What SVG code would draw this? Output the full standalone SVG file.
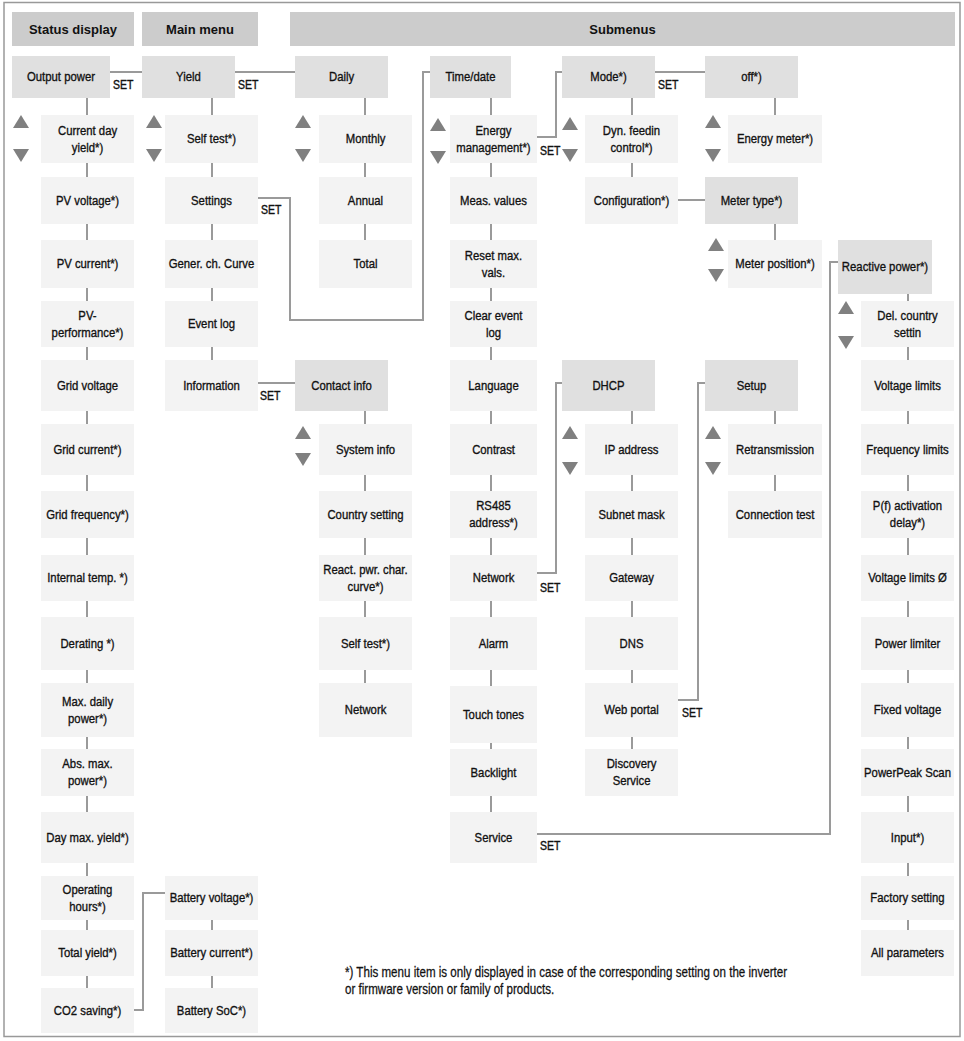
<svg xmlns="http://www.w3.org/2000/svg" xmlns:xlink="http://www.w3.org/1999/xlink" width="964" height="1041" viewBox="0 0 964 1041">
<style>
.hdr{fill:#cccccc}
.n1{fill:#e0e0e0}
.n2{fill:#f3f3f3}
.c{stroke:#9a9a9a;stroke-width:2;fill:none}
.tri{fill:#808080}
text{font-family:'Liberation Sans',Arial,sans-serif;fill:#111111}
.t{font-size:13.5px;text-anchor:middle;stroke:#111111;stroke-width:0.35;transform:scaleX(0.84);transform-box:fill-box;transform-origin:center}
.h{font-weight:bold;font-size:13px;text-anchor:middle}
.s{font-size:12.5px;stroke:#111111;stroke-width:0.4;transform:scaleX(0.84);transform-box:fill-box;transform-origin:left center}
.f{font-size:13.8px;stroke:#111111;stroke-width:0.25;transform:scaleX(0.84);transform-box:fill-box;transform-origin:left center}
</style>
<defs>
<path id="up" class="tri" d="M0,13 L8,0 L16,13 Z"/>
<path id="dn" class="tri" d="M0,0 L16,0 L8,13 Z"/>
</defs>
<rect x="4" y="2.5" width="956" height="1034" fill="#ffffff" stroke="#999999" stroke-width="1.5"/>

<g id="headers">
<rect class="hdr" x="12" y="12" width="122" height="34"/>
<text class="h" x="73" y="33.5">Status display</text>
<rect class="hdr" x="142" y="12" width="116" height="34"/>
<text class="h" x="200" y="33.5">Main menu</text>
<rect class="hdr" x="290" y="12" width="665" height="34"/>
<text class="h" x="622.5" y="33.5">Submenus</text>
</g>

<g id="connectors">
<path class="c" d="M87,98 V988"/>
<path class="c" d="M212,98 V360"/>
<path class="c" d="M212,920 V988"/>
<path class="c" d="M365,98 V240"/>
<path class="c" d="M365,411 V683"/>
<path class="c" d="M491,98 V812"/>
<path class="c" d="M632,98 V177"/>
<path class="c" d="M632,411 V749"/>
<path class="c" d="M775,98 V115"/>
<path class="c" d="M775,224 V240"/>
<path class="c" d="M775,411 V491"/>
<path class="c" d="M908,294 V930"/>
<path class="c" d="M110,72 H142"/>
<path class="c" d="M235,72 H295"/>
<path class="c" d="M258,198 H290 V320 H423 V72 H430"/>
<path class="c" d="M537,137 H556 V72 H562"/>
<path class="c" d="M655,72 H705"/>
<path class="c" d="M678,200 H705"/>
<path class="c" d="M258,383 H295"/>
<path class="c" d="M537,573 H556 V383 H562"/>
<path class="c" d="M678,700 H698 V383 H705"/>
<path class="c" d="M537,834 H830 V262 H838"/>
<path class="c" d="M134,1010 H143 V893 H165"/>
<text class="s" x="113" y="89">SET</text>
<text class="s" x="238" y="89">SET</text>
<text class="s" x="261" y="214">SET</text>
<text class="s" x="540" y="155">SET</text>
<text class="s" x="658" y="89">SET</text>
<text class="s" x="260" y="400">SET</text>
<text class="s" x="540" y="592">SET</text>
<text class="s" x="682" y="717">SET</text>
<text class="s" x="540" y="850">SET</text>
</g>

<g id="arrows">
<use xlink:href="#up" x="13" y="115"/><use xlink:href="#dn" x="13" y="149"/>
<use xlink:href="#up" x="146" y="115"/><use xlink:href="#dn" x="146" y="149"/>
<use xlink:href="#up" x="295" y="115"/><use xlink:href="#dn" x="295" y="149"/>
<use xlink:href="#up" x="430" y="118"/><use xlink:href="#dn" x="430" y="151"/>
<use xlink:href="#up" x="562" y="117"/><use xlink:href="#dn" x="562" y="149"/>
<use xlink:href="#up" x="705" y="115"/><use xlink:href="#dn" x="705" y="149"/>
<use xlink:href="#up" x="708" y="238"/><use xlink:href="#dn" x="708" y="269"/>
<use xlink:href="#up" x="295" y="426"/><use xlink:href="#dn" x="295" y="453"/>
<use xlink:href="#up" x="562" y="426"/><use xlink:href="#dn" x="562" y="462"/>
<use xlink:href="#up" x="705" y="426"/><use xlink:href="#dn" x="705" y="462"/>
<use xlink:href="#up" x="838" y="301"/><use xlink:href="#dn" x="838" y="336"/>
</g>

<!-- Column A: Status display -->
<g id="output-power"><rect class="n1" x="12" y="56" width="98" height="42"/><text class="t" x="61" y="81.5">Output power</text></g>
<g id="current-day-yield"><rect class="n2" x="41" y="115" width="93" height="48"/><text class="t" x="87.5" y="135">Current day<tspan x="87.5" dy="17">yield*)</tspan></text></g>
<g id="pv-voltage"><rect class="n2" x="41" y="177" width="93" height="47"/><text class="t" x="87.5" y="205">PV voltage*)</text></g>
<g id="pv-current"><rect class="n2" x="41" y="240" width="93" height="48"/><text class="t" x="87.5" y="268.5">PV current*)</text></g>
<g id="pv-performance"><rect class="n2" x="41" y="301" width="93" height="46"/><text class="t" x="87.5" y="320">PV-<tspan x="87.5" dy="17">performance*)</tspan></text></g>
<g id="grid-voltage"><rect class="n2" x="41" y="360" width="93" height="51"/><text class="t" x="87.5" y="390">Grid voltage</text></g>
<g id="grid-current"><rect class="n2" x="41" y="424" width="93" height="51"/><text class="t" x="87.5" y="454">Grid current*)</text></g>
<g id="grid-frequency"><rect class="n2" x="41" y="491" width="93" height="47"/><text class="t" x="87.5" y="519">Grid frequency*)</text></g>
<g id="internal-temp"><rect class="n2" x="41" y="555" width="93" height="46"/><text class="t" x="87.5" y="582.5">Internal temp. *)</text></g>
<g id="derating"><rect class="n2" x="41" y="617" width="93" height="53"/><text class="t" x="87.5" y="648">Derating *)</text></g>
<g id="max-daily-power"><rect class="n2" x="41" y="683" width="93" height="54"/><text class="t" x="87.5" y="706">Max. daily<tspan x="87.5" dy="17">power*)</tspan></text></g>
<g id="abs-max-power"><rect class="n2" x="41" y="749" width="93" height="47"/><text class="t" x="87.5" y="768.5">Abs. max.<tspan x="87.5" dy="17">power*)</tspan></text></g>
<g id="day-max-yield"><rect class="n2" x="41" y="812" width="93" height="51"/><text class="t" x="87.5" y="842">Day max. yield*)</text></g>
<g id="operating-hours"><rect class="n2" x="41" y="876" width="93" height="44"/><text class="t" x="87.5" y="894">Operating<tspan x="87.5" dy="17">hours*)</tspan></text></g>
<g id="total-yield"><rect class="n2" x="41" y="930" width="93" height="46"/><text class="t" x="87.5" y="957.5">Total yield*)</text></g>
<g id="co2-saving"><rect class="n2" x="41" y="988" width="93" height="45"/><text class="t" x="87.5" y="1015">CO2 saving*)</text></g>

<!-- Column B: Main menu -->
<g id="yield"><rect class="n1" x="142" y="56" width="93" height="42"/><text class="t" x="188.5" y="81.5">Yield</text></g>
<g id="self-test-main"><rect class="n2" x="165" y="115" width="93" height="48"/><text class="t" x="211.5" y="143.5">Self test*)</text></g>
<g id="settings"><rect class="n2" x="165" y="177" width="93" height="47"/><text class="t" x="211.5" y="205">Settings</text></g>
<g id="gener-ch-curve"><rect class="n2" x="165" y="240" width="93" height="48"/><text class="t" x="211.5" y="268.5">Gener. ch. Curve</text></g>
<g id="event-log"><rect class="n2" x="165" y="301" width="93" height="46"/><text class="t" x="211.5" y="328.5">Event log</text></g>
<g id="information"><rect class="n2" x="165" y="360" width="93" height="51"/><text class="t" x="211.5" y="390">Information</text></g>
<g id="battery-voltage"><rect class="n2" x="165" y="876" width="93" height="44"/><text class="t" x="211.5" y="902.5">Battery voltage*)</text></g>
<g id="battery-current"><rect class="n2" x="165" y="930" width="93" height="46"/><text class="t" x="211.5" y="957.5">Battery current*)</text></g>
<g id="battery-soc"><rect class="n2" x="165" y="988" width="93" height="45"/><text class="t" x="211.5" y="1015">Battery SoC*)</text></g>

<!-- Column C -->
<g id="daily"><rect class="n1" x="295" y="56" width="93" height="42"/><text class="t" x="341.5" y="81.5">Daily</text></g>
<g id="monthly"><rect class="n2" x="319" y="115" width="93" height="48"/><text class="t" x="365.5" y="143.5">Monthly</text></g>
<g id="annual"><rect class="n2" x="319" y="177" width="93" height="47"/><text class="t" x="365.5" y="205">Annual</text></g>
<g id="total"><rect class="n2" x="319" y="240" width="93" height="48"/><text class="t" x="365.5" y="268.5">Total</text></g>
<g id="contact-info"><rect class="n1" x="295" y="360" width="93" height="51"/><text class="t" x="341.5" y="390">Contact info</text></g>
<g id="system-info"><rect class="n2" x="319" y="424" width="93" height="51"/><text class="t" x="365.5" y="454">System info</text></g>
<g id="country-setting"><rect class="n2" x="319" y="491" width="93" height="47"/><text class="t" x="365.5" y="519">Country setting</text></g>
<g id="react-pwr-char-curve"><rect class="n2" x="319" y="555" width="93" height="46"/><text class="t" x="365.5" y="574">React. pwr. char.<tspan x="365.5" dy="17">curve*)</tspan></text></g>
<g id="self-test-info"><rect class="n2" x="319" y="617" width="93" height="53"/><text class="t" x="365.5" y="648">Self test*)</text></g>
<g id="network-info"><rect class="n2" x="319" y="683" width="93" height="54"/><text class="t" x="365.5" y="714.5">Network</text></g>

<!-- Column D -->
<g id="time-date"><rect class="n1" x="430" y="56" width="81" height="42"/><text class="t" x="470.5" y="81.5">Time/date</text></g>
<g id="energy-management"><rect class="n2" x="450" y="115" width="87" height="48"/><text class="t" x="493.5" y="135">Energy<tspan x="493.5" dy="17">management*)</tspan></text></g>
<g id="meas-values"><rect class="n2" x="450" y="177" width="87" height="47"/><text class="t" x="493.5" y="205">Meas. values</text></g>
<g id="reset-max-vals"><rect class="n2" x="450" y="240" width="87" height="48"/><text class="t" x="493.5" y="260">Reset max.<tspan x="493.5" dy="17">vals.</tspan></text></g>
<g id="clear-event-log"><rect class="n2" x="450" y="301" width="87" height="46"/><text class="t" x="493.5" y="320">Clear event<tspan x="493.5" dy="17">log</tspan></text></g>
<g id="language"><rect class="n2" x="450" y="360" width="87" height="51"/><text class="t" x="493.5" y="390">Language</text></g>
<g id="contrast"><rect class="n2" x="450" y="424" width="87" height="51"/><text class="t" x="493.5" y="454">Contrast</text></g>
<g id="rs485-address"><rect class="n2" x="450" y="491" width="87" height="47"/><text class="t" x="493.5" y="510.5">RS485<tspan x="493.5" dy="17">address*)</tspan></text></g>
<g id="network-settings"><rect class="n2" x="450" y="555" width="87" height="46"/><text class="t" x="493.5" y="582.5">Network</text></g>
<g id="alarm"><rect class="n2" x="450" y="617" width="87" height="53"/><text class="t" x="493.5" y="648">Alarm</text></g>
<g id="touch-tones"><rect class="n2" x="450" y="686" width="87" height="57"/><text class="t" x="493.5" y="719">Touch tones</text></g>
<g id="backlight"><rect class="n2" x="450" y="749" width="87" height="47"/><text class="t" x="493.5" y="777">Backlight</text></g>
<g id="service"><rect class="n2" x="450" y="812" width="87" height="51"/><text class="t" x="493.5" y="842">Service</text></g>

<!-- Column E -->
<g id="mode"><rect class="n1" x="562" y="56" width="93" height="42"/><text class="t" x="608.5" y="81.5">Mode*)</text></g>
<g id="dyn-feedin-control"><rect class="n2" x="585" y="115" width="93" height="48"/><text class="t" x="631.5" y="135">Dyn. feedin<tspan x="631.5" dy="17">control*)</tspan></text></g>
<g id="configuration"><rect class="n2" x="585" y="177" width="93" height="47"/><text class="t" x="631.5" y="205">Configuration*)</text></g>
<g id="dhcp"><rect class="n1" x="562" y="360" width="93" height="51"/><text class="t" x="608.5" y="390">DHCP</text></g>
<g id="ip-address"><rect class="n2" x="585" y="424" width="93" height="51"/><text class="t" x="631.5" y="454">IP address</text></g>
<g id="subnet-mask"><rect class="n2" x="585" y="491" width="93" height="47"/><text class="t" x="631.5" y="519">Subnet mask</text></g>
<g id="gateway"><rect class="n2" x="585" y="555" width="93" height="46"/><text class="t" x="631.5" y="582.5">Gateway</text></g>
<g id="dns"><rect class="n2" x="585" y="617" width="93" height="53"/><text class="t" x="631.5" y="648">DNS</text></g>
<g id="web-portal"><rect class="n2" x="585" y="683" width="93" height="54"/><text class="t" x="631.5" y="714.5">Web portal</text></g>
<g id="discovery-service"><rect class="n2" x="585" y="749" width="93" height="47"/><text class="t" x="631.5" y="768.5">Discovery<tspan x="631.5" dy="17">Service</tspan></text></g>

<!-- Column F -->
<g id="off"><rect class="n1" x="705" y="56" width="93" height="42"/><text class="t" x="751.5" y="81.5">off*)</text></g>
<g id="energy-meter"><rect class="n2" x="728" y="115" width="94" height="48"/><text class="t" x="775" y="143.5">Energy meter*)</text></g>
<g id="meter-type"><rect class="n1" x="705" y="177" width="93" height="47"/><text class="t" x="751.5" y="205">Meter type*)</text></g>
<g id="meter-position"><rect class="n2" x="728" y="240" width="94" height="48"/><text class="t" x="775" y="268.5">Meter position*)</text></g>
<g id="setup"><rect class="n1" x="705" y="360" width="93" height="51"/><text class="t" x="751.5" y="390">Setup</text></g>
<g id="retransmission"><rect class="n2" x="728" y="424" width="94" height="51"/><text class="t" x="775" y="454">Retransmission</text></g>
<g id="connection-test"><rect class="n2" x="728" y="491" width="94" height="47"/><text class="t" x="775" y="519">Connection test</text></g>

<!-- Column G -->
<g id="reactive-power"><rect class="n1" x="838" y="240" width="94" height="54"/><text class="t" x="885" y="271.5">Reactive power*)</text></g>
<g id="del-country-settin"><rect class="n2" x="861" y="301" width="93" height="46"/><text class="t" x="907.5" y="320">Del. country<tspan x="907.5" dy="17">settin</tspan></text></g>
<g id="voltage-limits"><rect class="n2" x="861" y="360" width="93" height="51"/><text class="t" x="907.5" y="390">Voltage limits</text></g>
<g id="frequency-limits"><rect class="n2" x="861" y="424" width="93" height="51"/><text class="t" x="907.5" y="454">Frequency limits</text></g>
<g id="pf-activation-delay"><rect class="n2" x="861" y="491" width="93" height="47"/><text class="t" x="907.5" y="510.5">P(f) activation<tspan x="907.5" dy="17">delay*)</tspan></text></g>
<g id="voltage-limits-avg"><rect class="n2" x="861" y="555" width="93" height="46"/><text class="t" x="907.5" y="582.5">Voltage limits Ø</text></g>
<g id="power-limiter"><rect class="n2" x="861" y="617" width="93" height="53"/><text class="t" x="907.5" y="648">Power limiter</text></g>
<g id="fixed-voltage"><rect class="n2" x="861" y="683" width="93" height="54"/><text class="t" x="907.5" y="714.5">Fixed voltage</text></g>
<g id="powerpeak-scan"><rect class="n2" x="861" y="749" width="93" height="47"/><text class="t" x="907.5" y="777">PowerPeak Scan</text></g>
<g id="input"><rect class="n2" x="861" y="812" width="93" height="51"/><text class="t" x="907.5" y="842">Input*)</text></g>
<g id="factory-setting"><rect class="n2" x="861" y="876" width="93" height="44"/><text class="t" x="907.5" y="902.5">Factory setting</text></g>
<g id="all-parameters"><rect class="n2" x="861" y="930" width="93" height="46"/><text class="t" x="907.5" y="957.5">All parameters</text></g>

<g id="footnote">
<text class="f" x="345" y="977">*) This menu item is only displayed in case of the corresponding setting on the inverter</text>
<text class="f" x="345" y="994">or firmware version or family of products.</text>
</g>
</svg>
